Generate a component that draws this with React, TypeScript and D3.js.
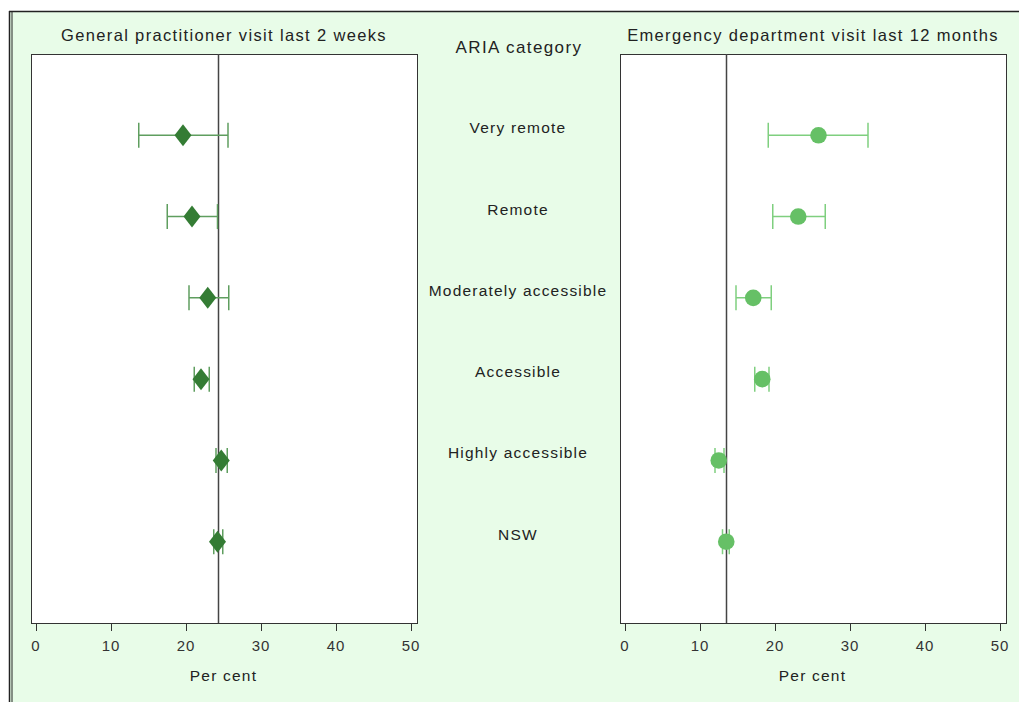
import React from "react";
import * as d3 from "d3";

const categories = [
  "Very remote",
  "Remote",
  "Moderately accessible",
  "Accessible",
  "Highly accessible",
  "NSW",
];
const gpEstimate = [19.6, 20.8, 22.9, 22.0, 24.7, 24.2];
const gpLower = [13.7, 17.5, 20.4, 21.1, 24.0, 23.7];
const gpUpper = [25.6, 24.2, 25.7, 23.1, 25.5, 24.9];
const gpReference = 24.3;

const edEstimate = [25.8, 23.1, 17.1, 18.3, 12.5, 13.5];
const edLower = [19.1, 19.7, 14.8, 17.3, 12.0, 13.0];
const edUpper = [32.4, 26.7, 19.5, 19.2, 13.2, 13.9];
const edReference = 13.4;

const xTicks = [0, 10, 20, 30, 40, 50];

const W = 1019;
const H = 702;
const FONT = "'Liberation Sans', Arial, sans-serif";
const TOP = 54;
const BOTTOM = 623;

type PanelProps = {
  title: string;
  boxLeft: number;
  boxRight: number;
  x0: number;
  x50: number;
  est: number[];
  lo: number[];
  hi: number[];
  ref: number;
  marker: "diamond" | "circle";
  markerColor: string;
  barColor: string;
};

function Panel(p: PanelProps) {
  const x = d3.scaleLinear().domain([0, 50]).range([p.x0, p.x50]);
  const y = d3.scalePoint<string>().domain(categories).range([TOP, BOTTOM]).padding(1);
  const cx = (p.boxLeft + p.boxRight) / 2;
  return (
    <g>
      <text x={cx} y={41} textAnchor="middle" fontFamily={FONT} fontSize={16.5} letterSpacing={1.35} fill="#222">
        {p.title}
      </text>
      <rect x={p.boxLeft + 0.5} y={TOP + 0.5} width={p.boxRight - p.boxLeft} height={BOTTOM - TOP} fill="#fff" stroke="#333" strokeWidth={1} />
      <line x1={Math.round(x(p.ref)) + 0.5} x2={Math.round(x(p.ref)) + 0.5} y1={TOP} y2={BOTTOM} stroke="#444" strokeWidth={1.5} />
      {categories.map((c, i) => {
        const yy = y(c)!;
        return (
          <g key={c}>
            <line x1={x(p.lo[i])} x2={x(p.hi[i])} y1={yy} y2={yy} stroke={p.barColor} strokeWidth={1.5} />
            <line x1={x(p.lo[i])} x2={x(p.lo[i])} y1={yy - 12.5} y2={yy + 12.5} stroke={p.barColor} strokeWidth={1.5} />
            <line x1={x(p.hi[i])} x2={x(p.hi[i])} y1={yy - 12.5} y2={yy + 12.5} stroke={p.barColor} strokeWidth={1.5} />
            {p.marker === "diamond" ? (
              <path
                d={`M${x(p.est[i])},${yy - 11}L${x(p.est[i]) + 8.5},${yy}L${x(p.est[i])},${yy + 11}L${x(p.est[i]) - 8.5},${yy}Z`}
                fill={p.markerColor}
              />
            ) : (
              <circle cx={x(p.est[i])} cy={yy} r={8.3} fill={p.markerColor} />
            )}
          </g>
        );
      })}
      <line x1={p.boxLeft + 0.5} x2={p.boxRight + 0.5} y1={BOTTOM + 0.5} y2={BOTTOM + 0.5} stroke="#333" />
      {xTicks.map((t) => (
        <g key={t}>
          <line x1={Math.round(x(t)) + 0.5} x2={Math.round(x(t)) + 0.5} y1={BOTTOM} y2={BOTTOM + 8} stroke="#333" />
          <text x={x(t)} y={651} textAnchor="middle" fontFamily={FONT} fontSize={15} letterSpacing={1} fill="#333">
            {t}
          </text>
        </g>
      ))}
      <text x={(p.x0 + p.x50) / 2} y={681} textAnchor="middle" fontFamily={FONT} fontSize={15.5} letterSpacing={1.2} fill="#222">
        Per cent
      </text>
    </g>
  );
}

export default function App() {
  const y = d3.scalePoint<string>().domain(categories).range([TOP, BOTTOM]).padding(1);
  return (
    <svg width={W} height={H} style={{ position: "absolute", left: 0, top: 0 }}>
      <rect x={0} y={0} width={W} height={H} fill="#fff" />
      <rect x={9} y={11} width={W - 9} height={H - 11} fill="#e8fce8" />
      <line x1={9} x2={W} y1={11.5} y2={11.5} stroke="#222" strokeWidth={1.5} />
      <line x1={9.5} x2={9.5} y1={11} y2={H} stroke="#222" strokeWidth={1.5} />
      <line x1={12} x2={12} y1={11} y2={H} stroke="#222" strokeWidth={1} />
      <Panel
        title="General practitioner visit last 2 weeks"
        boxLeft={31}
        boxRight={417}
        x0={36}
        x50={411}
        est={gpEstimate}
        lo={gpLower}
        hi={gpUpper}
        ref={gpReference}
        marker="diamond"
        markerColor="#347c34"
        barColor="#5f9e5f"
      />
      <Panel
        title="Emergency department visit last 12 months"
        boxLeft={620}
        boxRight={1006}
        x0={625}
        x50={1000}
        est={edEstimate}
        lo={edLower}
        hi={edUpper}
        ref={edReference}
        marker="circle"
        markerColor="#66c066"
        barColor="#7fcf7f"
      />
      <text x={519} y={53} textAnchor="middle" fontFamily={FONT} fontSize={17} letterSpacing={1.4} fill="#222">
        ARIA category
      </text>
      {categories.map((c) => (
        <text key={c} x={518} y={y(c)! - 2} textAnchor="middle" fontFamily={FONT} fontSize={15.5} letterSpacing={1.2} fill="#222">
          {c}
        </text>
      ))}
    </svg>
  );
}
